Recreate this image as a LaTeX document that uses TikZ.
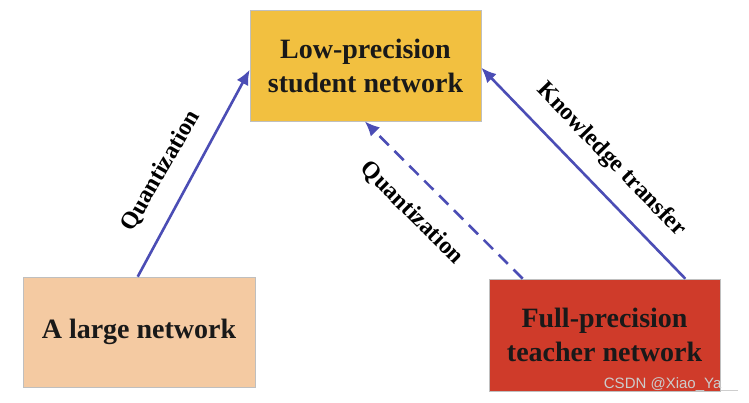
\documentclass[tikz,border=0pt]{standalone}
\usepackage{fontspec}
\setmainfont{Liberation Serif}
\newfontfamily\wmfont{Liberation Sans}
\usetikzlibrary{arrows.meta}
\definecolor{topc}{HTML}{F2C040}
\definecolor{leftc}{HTML}{F4CAA2}
\definecolor{rightc}{HTML}{CF3B2A}
\definecolor{arrc}{HTML}{4B4DB5}
\tikzset{
  box/.style={draw=black!25, line width=0.6pt, minimum width=231pt, minimum height=111pt, align=center, inner sep=0pt,
    font=\fontsize{28}{34}\selectfont\bfseries, text=black!90},
  conn/.style={draw=arrc, line width=2.6pt, -{Latex[length=15pt,width=13pt]}},
  dconn/.style={conn, dash pattern=on 13pt off 8pt},
  lab/.style={font=\fontsize{24}{26}\selectfont\bfseries, inner sep=0pt},
}
\begin{document}
\begin{tikzpicture}[x=1pt,y=-1pt]
\useasboundingbox (0,0) rectangle (749,403);
\fill[white] (0,0) rectangle (749,403);
\node[box, fill=topc, minimum height=111pt] (T) at (365.5,65.5) {Low-precision\\student network};
\node[box, fill=leftc, minimum width=232pt, minimum height=110pt] (L) at (139,332) {A large network};
\node[box, fill=rightc, minimum height=112pt] (R) at (604.5,335) {Full-precision\\teacher network};
\draw[conn] ([xshift=115pt]L.north west) -- ([yshift=-60pt]T.north west);
\draw[dconn] ([xshift=34pt]R.north west) -- ([xshift=115pt]T.south west);
\draw[conn] ([xshift=-35pt]R.north east) -- ([yshift=-58pt]T.north east);
\node[lab, rotate=60] (q1) at (161,171) {Quantization};
\node[lab, rotate=-45] (q2) at (412,213) {Quantization};
\node[lab, rotate=-46] (kt) at (611,160) {Knowledge transfer};
\node[font=\wmfont\fontsize{15}{17}\selectfont, text=white!80!black, inner sep=0pt] (wm) at (671,385) {CSDN @Xiao\_Ya\_\_};
\end{tikzpicture}
\end{document}
